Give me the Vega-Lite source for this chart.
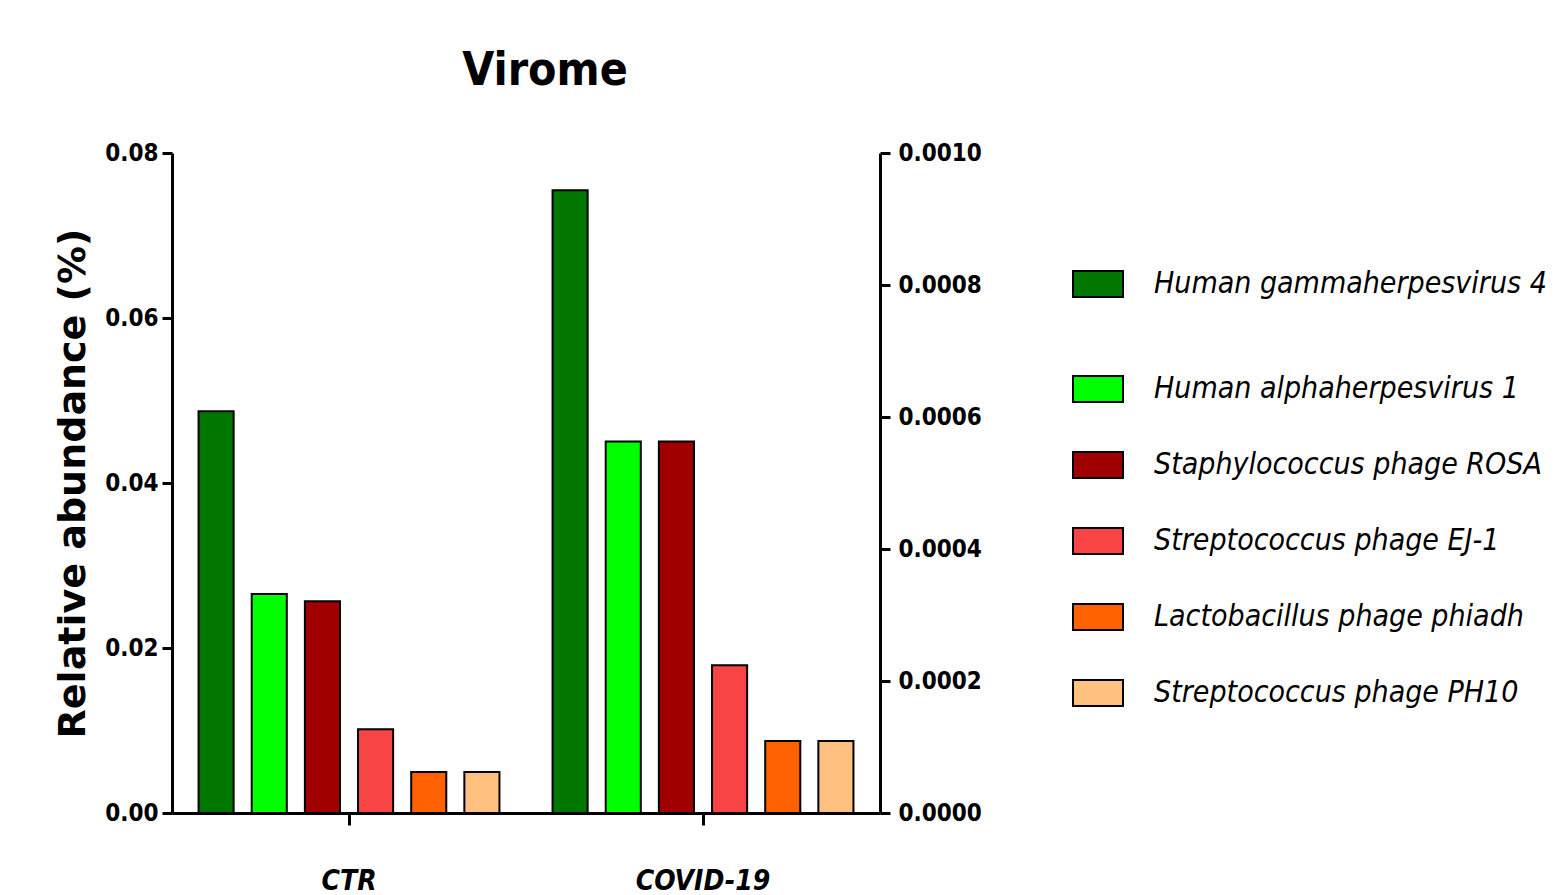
{
  "$schema": "https://vega.github.io/schema/vega-lite/v6.json",
  "autosize": "none",
  "width": 708,
  "height": 660,
  "padding": {"left": 172, "top": 153, "right": 681, "bottom": 82},
  "background": "white",
  "title": {
    "text": "Virome",
    "font": "Liberation Sans Narrow, DejaVu Sans Condensed, Liberation Sans, sans-serif",
    "fontSize": 46,
    "fontWeight": "bold",
    "color": "black",
    "anchor": "middle",
    "dx": 19,
    "offset": 46
  },
  "config": {
    "view": {"stroke": null},
    "font": "Liberation Sans Narrow, DejaVu Sans Condensed, Liberation Sans, sans-serif"
  },
  "data": {
    "values": [
      {"group": "CTR", "virus": "Human gammaherpesvirus 4", "axis": "left", "value": 0.0487},
      {"group": "CTR", "virus": "Human alphaherpesvirus 1", "axis": "right", "value": 0.000332},
      {"group": "CTR", "virus": "Staphylococcus phage ROSA", "axis": "right", "value": 0.000321},
      {"group": "CTR", "virus": "Streptococcus phage EJ-1", "axis": "right", "value": 0.000127},
      {"group": "CTR", "virus": "Lactobacillus phage phiadh", "axis": "right", "value": 0.0000621},
      {"group": "CTR", "virus": "Streptococcus phage PH10", "axis": "right", "value": 0.0000621},
      {"group": "COVID-19", "virus": "Human gammaherpesvirus 4", "axis": "left", "value": 0.0755},
      {"group": "COVID-19", "virus": "Human alphaherpesvirus 1", "axis": "right", "value": 0.000563},
      {"group": "COVID-19", "virus": "Staphylococcus phage ROSA", "axis": "right", "value": 0.000563},
      {"group": "COVID-19", "virus": "Streptococcus phage EJ-1", "axis": "right", "value": 0.000224},
      {"group": "COVID-19", "virus": "Lactobacillus phage phiadh", "axis": "right", "value": 0.000109},
      {"group": "COVID-19", "virus": "Streptococcus phage PH10", "axis": "right", "value": 0.000109}
    ]
  },
  "encoding": {
    "x": {
      "field": "group",
      "type": "nominal",
      "sort": ["CTR", "COVID-19"],
      "scale": {"paddingInner": 0.15, "paddingOuter": 0.075},
      "axis": {
        "title": null,
        "labelAngle": 0,
        "labelFontSize": 28,
        "labelFontWeight": "bold",
        "labelFontStyle": "italic",
        "labelColor": "black",
        "labelPadding": 42,
        "domainColor": "black",
        "domainWidth": 3,
        "tickColor": "black",
        "tickWidth": 3,
        "tickSize": 12
      }
    },
    "xOffset": {
      "field": "virus",
      "type": "nominal",
      "scale": {
        "domain": ["Human gammaherpesvirus 4", "Human alphaherpesvirus 1", "Staphylococcus phage ROSA", "Streptococcus phage EJ-1", "Lactobacillus phage phiadh", "Streptococcus phage PH10"],
        "paddingInner": 0.34,
        "paddingOuter": 0
      }
    }
  },
  "layer": [
    {
      "transform": [{"filter": "datum.axis === 'left'"}],
      "mark": {"type": "bar", "stroke": "black", "strokeWidth": 2},
      "encoding": {
        "y": {
          "field": "value",
          "type": "quantitative",
          "scale": {"domain": [0, 0.08], "nice": false},
          "axis": {
            "title": "Relative abundance (%)",
            "titleFont": "DejaVu Sans",
            "titleFontSize": 38,
            "titleFontWeight": "bold",
            "titleColor": "black",
            "titlePadding": 12,
            "values": [0, 0.02, 0.04, 0.06, 0.08],
            "format": ".2f",
            "grid": false,
            "labelFontSize": 24,
            "labelFontWeight": "bold",
            "labelColor": "black",
            "labelPadding": 4,
            "domainColor": "black",
            "domainWidth": 3,
            "tickColor": "black",
            "tickWidth": 3,
            "tickSize": 10
          }
        },
        "color": {
          "field": "virus",
          "type": "nominal",
          "scale": {"domain": ["Human gammaherpesvirus 4"], "range": ["#007800"]},
          "legend": {
            "orient": "none",
            "legendX": 900,
            "legendY": 105,
            "title": null,
            "padding": 0,
            "symbolType": "M-1,-0.52H1V0.52H-1Z",
            "symbolSize": 2500,
            "symbolStrokeColor": "black",
            "symbolStrokeWidth": 2,
            "labelFontSize": 30,
            "labelFontStyle": "italic",
            "labelColor": "black",
            "labelOffset": 30,
            "labelLimit": 600
          }
        }
      }
    },
    {
      "transform": [{"filter": "datum.axis === 'right'"}],
      "mark": {"type": "bar", "stroke": "black", "strokeWidth": 2},
      "encoding": {
        "y": {
          "field": "value",
          "type": "quantitative",
          "scale": {"domain": [0, 0.001], "nice": false},
          "axis": {
            "orient": "right",
            "title": null,
            "values": [0, 0.0002, 0.0004, 0.0006, 0.0008, 0.001],
            "format": ".4f",
            "grid": false,
            "labelFontSize": 24,
            "labelFontWeight": "bold",
            "labelColor": "black",
            "labelPadding": 8,
            "domainColor": "black",
            "domainWidth": 3,
            "tickColor": "black",
            "tickWidth": 3,
            "tickSize": 10
          }
        },
        "color": {
          "field": "virus",
          "type": "nominal",
          "scale": {
            "domain": ["Human alphaherpesvirus 1", "Staphylococcus phage ROSA", "Streptococcus phage EJ-1", "Lactobacillus phage phiadh", "Streptococcus phage PH10"],
            "range": ["#00ff00", "#a00000", "#f84444", "#ff6000", "#ffc080"]
          },
          "legend": {
            "orient": "none",
            "legendX": 900,
            "legendY": 210,
            "title": null,
            "padding": 0,
            "rowPadding": 33,
            "symbolType": "M-1,-0.52H1V0.52H-1Z",
            "symbolSize": 2500,
            "symbolStrokeColor": "black",
            "symbolStrokeWidth": 2,
            "labelFontSize": 30,
            "labelFontStyle": "italic",
            "labelColor": "black",
            "labelOffset": 30,
            "labelLimit": 600
          }
        }
      }
    }
  ],
  "resolve": {"scale": {"y": "independent", "color": "independent"}}
}
